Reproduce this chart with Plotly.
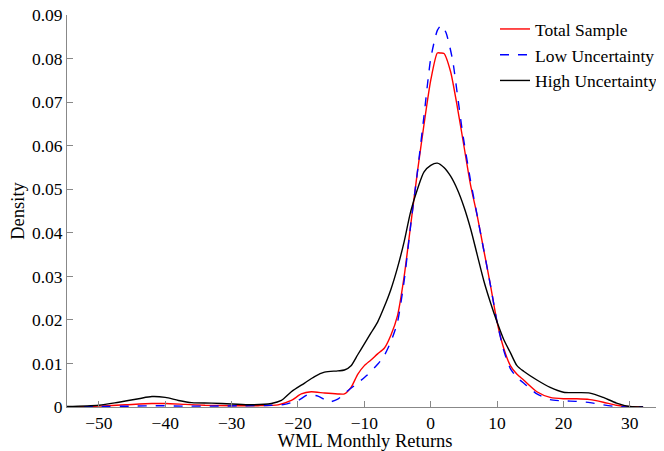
import plotly.graph_objects as go

# Total Sample
total_x = [-55, -50, -46, -42, -40, -37, -34, -30, -26, -23, -21, -19.5, -18, -16, -14, -13, -12, -11, -10, -9,
           -8, -7, -6, -5, -4, -3, -2, -1, 0, 1, 1.5, 2, 3, 4, 5, 6, 7, 8, 9, 10, 11, 12, 13, 14, 16, 18, 20, 22,
           24, 26, 28, 29.5, 32]
total_y = [0, 0.0002, 0.0005, 0.0008, 0.0008, 0.0006, 0.0004, 0.0003, 0.0003, 0.0005, 0.0015, 0.003, 0.0035,
           0.0032, 0.003, 0.003, 0.0045, 0.0075, 0.0095, 0.0108, 0.0122, 0.0135, 0.0165, 0.021, 0.03, 0.042,
           0.054, 0.065, 0.075, 0.0813, 0.0813, 0.0812, 0.077, 0.069, 0.060, 0.051, 0.044, 0.036, 0.028, 0.0195,
           0.0135, 0.0095, 0.0075, 0.0062, 0.0035, 0.0022, 0.0019, 0.0019, 0.0017, 0.0011, 0.0004, 0.0001, 0]

# Low Uncertainty
low_x = [-55, -50, -45, -41, -37, -33, -28, -24, -22, -20, -18.5, -17, -15.2, -14, -12.7, -11, -9.6, -8, -7,
         -6, -5, -4, -3, -2, -1, 0, 1, 1.6, 2.3, 3.3, 4, 4.8, 6, 7, 8, 9, 10, 11, 12, 13, 14, 16, 18, 20, 22,
         24, 26, 28, 30, 32]
low_y = [0, 0.0001, 0.0002, 0.0003, 0.0002, 0.0002, 0.0003, 0.0004, 0.0006, 0.0015, 0.0028, 0.0025, 0.0012,
         0.0018, 0.0035, 0.0055, 0.0073, 0.0098, 0.0118, 0.015, 0.0195, 0.029, 0.042, 0.054, 0.067, 0.080,
         0.0865, 0.0877, 0.086, 0.0797, 0.072, 0.063, 0.052, 0.044, 0.036, 0.028, 0.0195, 0.013, 0.0088,
         0.0068, 0.0055, 0.003, 0.0017, 0.0014, 0.0013, 0.001, 0.0005, 0.0001, 0, 0]

# High Uncertainty
high_x = [-55, -50, -47, -44, -42, -40, -38, -36, -33, -30, -27, -24, -22.5, -21, -19, -17.5, -16, -14, -13,
          -12, -11, -10, -9, -8, -7, -6, -5, -4, -3, -2, -1, 0, 1, 2, 3, 4, 5, 6, 7, 8, 9, 10, 11, 12, 13, 14,
          16, 18, 20, 22, 24, 26, 28, 30, 32]
high_y = [0.0001, 0.0004, 0.0011, 0.0019, 0.0024, 0.0022, 0.0015, 0.001, 0.0009, 0.0007, 0.0005, 0.0008,
          0.0015, 0.0035, 0.0055, 0.007, 0.008, 0.0083, 0.0085, 0.0095, 0.012, 0.0145, 0.017, 0.0195, 0.023,
          0.027, 0.032, 0.038, 0.045, 0.050, 0.054, 0.0555, 0.056, 0.055, 0.053, 0.050, 0.046, 0.041, 0.035,
          0.029, 0.024, 0.0195, 0.0155, 0.0125, 0.0095, 0.0082, 0.0062, 0.0045, 0.0034, 0.0033, 0.0032, 0.0022,
          0.0009, 0.0001, 0]

x_ticks = [-50, -40, -30, -20, -10, 0, 10, 20, 30]
y_ticks = [0, 0.01, 0.02, 0.03, 0.04, 0.05, 0.06, 0.07, 0.08, 0.09]
y_tick_labels = ["0", "0.01", "0.02", "0.03", "0.04", "0.05", "0.06", "0.07", "0.08", "0.09"]

font_family = "Liberation Serif, Times New Roman, serif"

fig = go.Figure()
fig.add_trace(go.Scatter(x=total_x, y=total_y, mode="lines", name="Total Sample",
                         line=dict(color="#ff0000", width=1.4, shape="spline", smoothing=0.6)))
fig.add_trace(go.Scatter(x=low_x, y=low_y, mode="lines", name="Low Uncertainty",
                         line=dict(color="#0000ff", width=1.4, dash="dash", shape="spline", smoothing=0.6)))
fig.add_trace(go.Scatter(x=high_x, y=high_y, mode="lines", name="High Uncertainty",
                         line=dict(color="#000000", width=1.4, shape="spline", smoothing=0.8)))

# page body has an 8px default margin, so the figure is drawn 8px smaller
fig.update_layout(
    width=656, height=443,
    margin=dict(l=59, r=1, t=7, b=44, autoexpand=False),
    paper_bgcolor="white", plot_bgcolor="white",
    font=dict(family=font_family, size=17.5, color="black"),
    showlegend=True,
    legend=dict(x=1.0, y=1.01, xanchor="right", yanchor="top", bgcolor="rgba(0,0,0,0)",
                font=dict(family=font_family, size=17.5), tracegroupgap=0, itemwidth=30),
    xaxis=dict(range=[-54.8, 35], tickvals=x_ticks, ticks="inside", ticklen=6, tickcolor="#888",
               showline=True, linecolor="#888", linewidth=1, showgrid=False, zeroline=False,
               automargin=False,
               title=dict(text="WML Monthly Returns", font=dict(size=18.5), standoff=3),
               tickfont=dict(size=17.5)),
    yaxis=dict(range=[0, 0.09003], tickvals=y_ticks, ticktext=y_tick_labels, ticks="inside", ticklen=6,
               tickcolor="#888", showline=True, linecolor="#888", linewidth=1, showgrid=False,
               zeroline=False, automargin=False, ticklabeloverflow="allow",
               title=dict(text="Density", font=dict(size=18.5), standoff=4),
               tickfont=dict(size=17.5)),
)

fig.write_html("out.html")
